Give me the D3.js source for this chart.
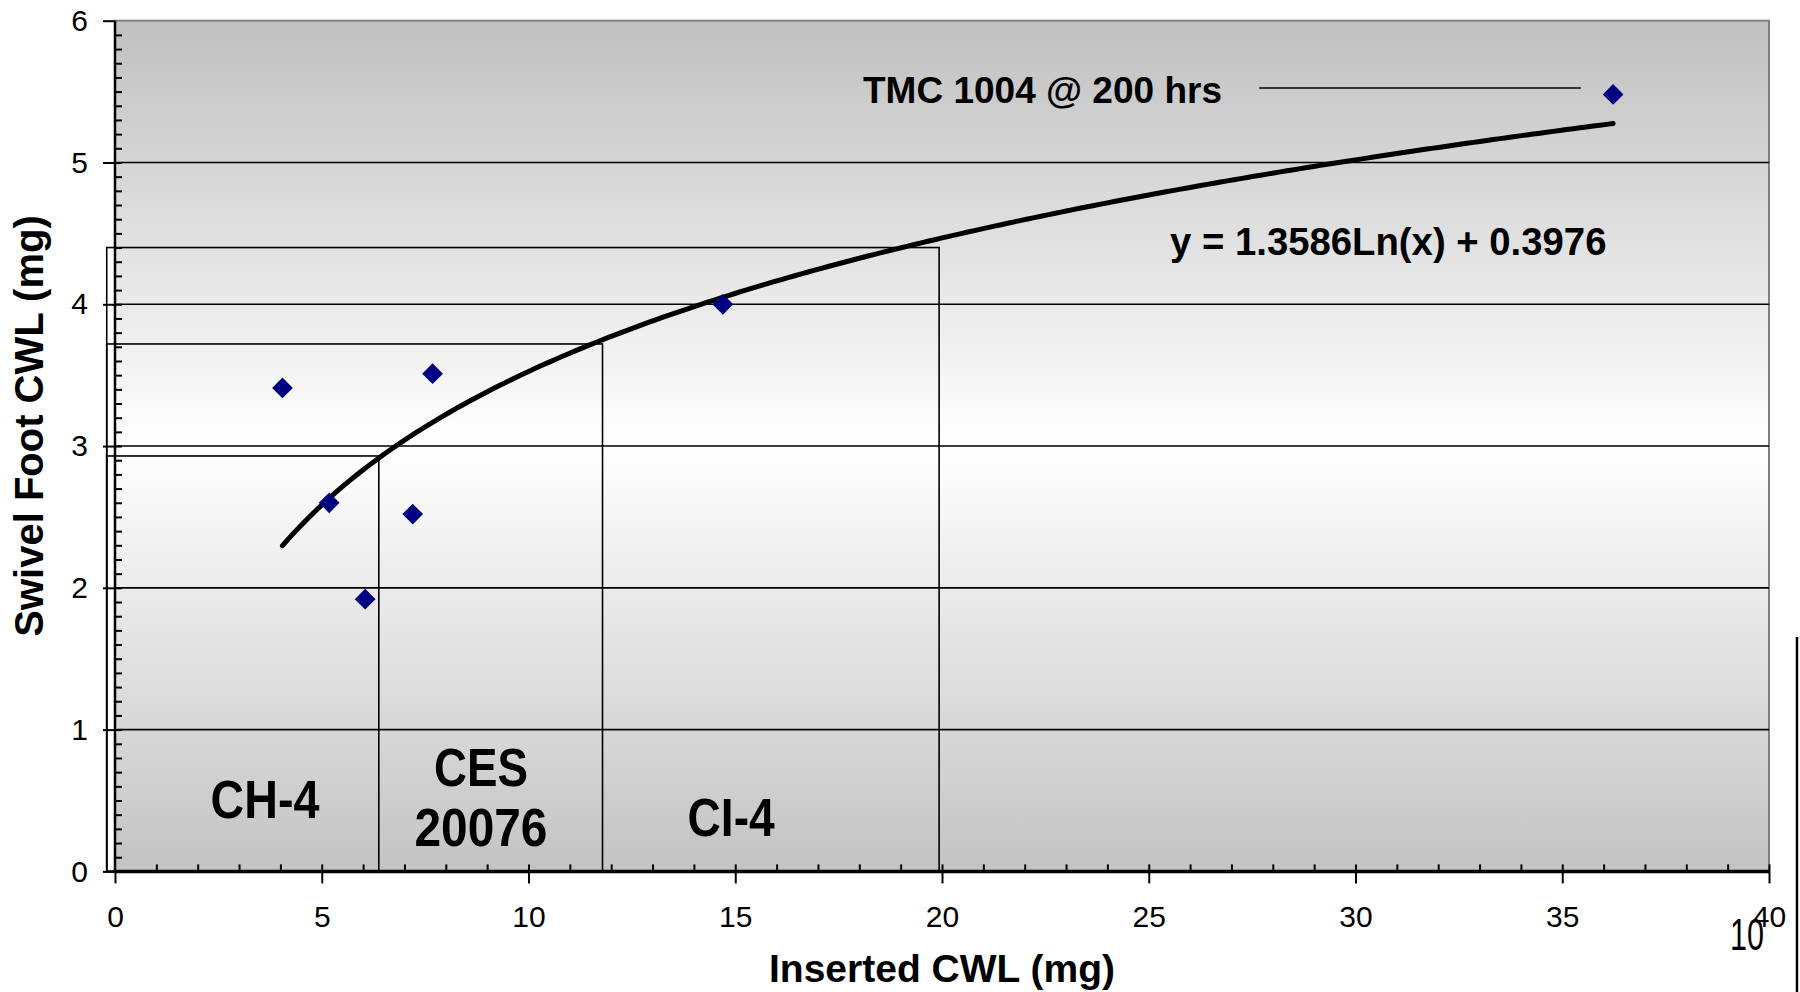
<!DOCTYPE html>
<html>
<head>
<meta charset="utf-8">
<script src="https://cdn.jsdelivr.net/npm/d3@7"></script>
<style>
  body { margin: 0; background: #fff; }
  svg { display: block; font-family: "Liberation Sans", Arial, sans-serif; }
  .narrow { font-family: "Liberation Sans Narrow", "Arial Narrow", "Liberation Sans", sans-serif; }
</style>
</head>
<body>
<svg id="chart" width="1800" height="992"></svg>
<script>
// measured points
const insertedCWL = [4.05, 5.18, 6.05, 7.20, 7.68, 14.70, 36.23]
const swivelCWL   = [3.41, 2.60, 1.92, 2.52, 3.51, 4.00, 5.48]

// log trendline shown on the chart
const trendSlope = 1.3586,
      trendIntercept = 0.3976

// oil category boxes
const boxNames = ['CH-4', 'CES\n20076', 'CI-4']
const boxMaxX  = [6.38, 11.79, 19.93]
const boxMaxY  = [2.93, 3.72, 4.40]

const xTicks = [0, 5, 10, 15, 20, 25, 30, 35, 40]
const yTicks = [0, 1, 2, 3, 4, 5, 6]

const svg = d3.select('#chart')

const plotLeft = 115, plotRight = 1769, plotTop = 20.7, plotBottom = 871.4

const xScale = d3.scaleLinear().domain([0, 40]).range([plotLeft, plotRight])
const yScale = d3.scaleLinear().domain([0, 6]).range([plotBottom, plotTop])

//background gradient
const grad = svg.append('defs').append('linearGradient')
    .attr('id', 'bg').attr('x1', 0).attr('y1', 0).attr('x2', 0).attr('y2', 1)
grad.append('stop').attr('offset', '0%').attr('stop-color', '#c0c0c0')
grad.append('stop').attr('offset', '50%').attr('stop-color', '#ffffff')
grad.append('stop').attr('offset', '100%').attr('stop-color', '#c3c3c3')

svg.append('rect')
    .attr('x', plotLeft).attr('y', plotTop)
    .attr('width', plotRight - plotLeft).attr('height', plotBottom - plotTop)
    .style('fill', 'url(#bg)')
    .style('stroke', '#808080')
    .style('stroke-width', 2)

//gridlines
svg.append('g')
    .selectAll('line')
    .data(yTicks.filter(d => d > 0 && d < 6))
    .join('line')
    .attr('x1', plotLeft).attr('x2', plotRight)
    .attr('y1', d => yScale(d)).attr('y2', d => yScale(d))
    .style('stroke', '#000')
    .style('stroke-width', 1.6)

//category boxes
const boxes = boxNames.map((name, i) => ({name, x: boxMaxX[i], y: boxMaxY[i]}))
svg.append('g')
    .selectAll('rect')
    .data(boxes)
    .join('rect')
    .attr('x', xScale(-0.2))
    .attr('y', d => yScale(d.y))
    .attr('width', d => xScale(d.x) - xScale(-0.2))
    .attr('height', d => yScale(0) - yScale(d.y))
    .style('fill', 'none')
    .style('stroke', '#000')
    .style('stroke-width', 1.6)

//box labels (condensed bold, like the original slide)
const labelPos = [{x: 3.63, y: 0.38}, {x: 8.85, y: 0.18}, {x: 14.9, y: 0.25}]
const labelWidths = [[109], [94, 133], [87]]
boxes.forEach((b, i) => {
    const lines = b.name.split('\n')
    lines.forEach((l, j) => {
        svg.append('text')
            .attr('class', 'narrow')
            .attr('x', xScale(labelPos[i].x))
            .attr('y', yScale(labelPos[i].y) - 60 * (lines.length - 1 - j))
            .attr('text-anchor', 'middle')
            .attr('textLength', labelWidths[i][j])
            .attr('lengthAdjust', 'spacingAndGlyphs')
            .style('font-size', '53px')
            .style('font-weight', 'bold')
            .text(l)
    })
})

//y axis ticks
const yAxis = svg.append('g')
    .attr('transform', `translate(${plotLeft},0)`)
    .call(d3.axisLeft(yScale).tickValues(yTicks).tickSize(12).tickPadding(15).tickFormat(d3.format('d')))
yAxis.select('.domain').remove()
yAxis.selectAll('line').style('stroke', '#000').style('stroke-width', 2)
yAxis.selectAll('text').style('font-size', '30px').style('fill', '#000')

const yMinor = svg.append('g')
    .attr('transform', `translate(${plotLeft},0)`)
    .call(d3.axisRight(yScale).tickValues(d3.range(0, 60).map(d => d / 10)).tickSize(7).tickFormat(''))
yMinor.select('.domain').remove()
yMinor.selectAll('line').style('stroke', '#000').style('stroke-width', 2)

//x axis ticks
const xAxis = svg.append('g')
    .attr('transform', `translate(0,${plotBottom})`)
    .call(d3.axisBottom(xScale).tickValues(xTicks).tickSize(12).tickPadding(22).tickFormat(d3.format('d')))
xAxis.select('.domain').remove()
xAxis.selectAll('line').style('stroke', '#000').style('stroke-width', 2)
xAxis.selectAll('text').style('font-size', '30px').style('fill', '#000')

const xMinor = svg.append('g')
    .attr('transform', `translate(0,${plotBottom})`)
    .call(d3.axisTop(xScale).tickValues(d3.range(1, 41)).tickSize(7).tickFormat(''))
xMinor.select('.domain').remove()
xMinor.selectAll('line').style('stroke', '#000').style('stroke-width', 2)

//axis lines
svg.append('line')
    .attr('x1', plotLeft).attr('x2', plotLeft).attr('y1', plotTop).attr('y2', plotBottom)
    .style('stroke', '#000').style('stroke-width', 2.5)
svg.append('line')
    .attr('x1', plotLeft - 1).attr('x2', plotRight + 1).attr('y1', plotBottom).attr('y2', plotBottom)
    .style('stroke', '#000').style('stroke-width', 3.5)

//trendline
const xMin = d3.min(insertedCWL), xMax = d3.max(insertedCWL)
const trend = d3.range(0, 201).map(i => {
    const x = xMin + (xMax - xMin) * i / 200
    return [x, trendSlope * Math.log(x) + trendIntercept]
})
svg.append('path')
    .datum(trend)
    .attr('d', d3.line().x(d => xScale(d[0])).y(d => yScale(d[1])))
    .style('fill', 'none')
    .style('stroke', '#000')
    .style('stroke-width', 5)
    .style('stroke-linecap', 'round')

//points
const points = insertedCWL.map((x, i) => ({x, y: swivelCWL[i]}))
svg.append('g')
    .selectAll('path')
    .data(points)
    .join('path')
    .attr('d', d3.symbol(d3.symbolSquare, 215))
    .attr('transform', d => `translate(${xScale(d.x)},${yScale(d.y)}) rotate(45)`)
    .style('fill', '#000080')

//annotations
svg.append('text')
    .attr('x', 863).attr('y', 103)
    .style('font-size', '37px').style('font-weight', 'bold')
    .text('TMC 1004 @ 200 hrs')
svg.append('line')
    .attr('x1', xScale(27.67)).attr('x2', xScale(35.45))
    .attr('y1', yScale(5.525)).attr('y2', yScale(5.525))
    .style('stroke', '#000').style('stroke-width', 1.6)

svg.append('text')
    .attr('x', 1170).attr('y', 255)
    .style('font-size', '38.3px').style('font-weight', 'bold')
    .text(`y = ${trendSlope}Ln(x) + ${trendIntercept}`)

//axis titles
svg.append('text')
    .attr('x', (plotLeft + plotRight) / 2).attr('y', 982)
    .attr('text-anchor', 'middle')
    .style('font-size', '39px').style('font-weight', 'bold')
    .text('Inserted CWL (mg)')

svg.append('text')
    .attr('transform', 'translate(43,426) rotate(-90)')
    .attr('text-anchor', 'middle')
    .style('font-size', '40px').style('font-weight', 'bold')
    .text('Swivel Foot CWL (mg)')

//slide page number and edge
svg.append('text')
    .attr('class', 'narrow')
    .attr('x', 1747).attr('y', 950)
    .attr('text-anchor', 'middle')
    .attr('textLength', 34)
    .attr('lengthAdjust', 'spacingAndGlyphs')
    .style('font-size', '44px')
    .text('10')
svg.append('line')
    .attr('x1', 1797).attr('x2', 1797).attr('y1', 637).attr('y2', 992)
    .style('stroke', '#000').style('stroke-width', 2.5)
</script>
</body>
</html>
